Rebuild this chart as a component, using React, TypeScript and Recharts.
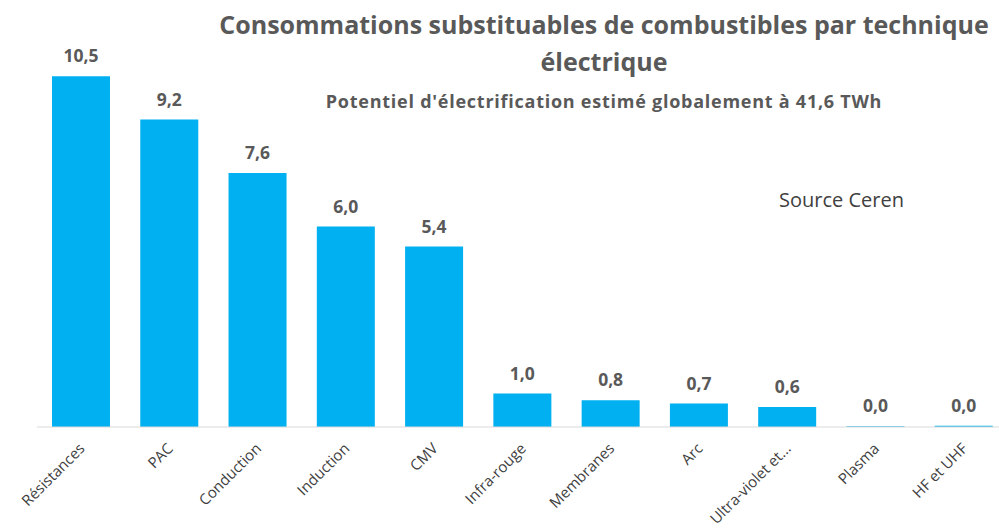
import React from "react";
import { BarChart, Bar, XAxis, YAxis, LabelList } from "recharts";

const categories = ["Résistances", "PAC", "Conduction", "Induction", "CMV", "Infra-rouge", "Membranes", "Arc", "Ultra-violet et...", "Plasma", "HF et UHF"];
const values = [10.5, 9.2, 7.6, 6.0, 5.4, 1.0, 0.8, 0.7, 0.6, 0.02, 0.04];

const data = categories.map((name, i) => ({ name, value: values[i] }));

const FONT = "'Open Sans', sans-serif";

const Tick = (props: any) => {
  const { x, y, payload } = props;
  return (
    <g transform={`translate(${x + 1},${y + 11})`}>
      <text textAnchor="end" transform="rotate(-45)" fontSize={15} fill="#404040" fontFamily={FONT} dy={5}>
        {payload.value}
      </text>
    </g>
  );
};

const fmt = (v: number) => v.toFixed(1).replace(".", ",");

export default function App() {
  return (
    <div style={{ position: "absolute", left: 0, top: 0, width: 999, height: 529, overflow: "hidden", background: "#fff", fontFamily: FONT }}>
      <BarChart width={1010} height={529} data={data} margin={{ top: 26, right: 2, bottom: 72, left: 37 }} barCategoryGap={15}>
        <XAxis dataKey="name" height={30} interval={0} tickLine={false} axisLine={{ stroke: "#d9d9d9" }} tick={<Tick />} />
        <YAxis hide domain={[0, 12]} />
        <Bar dataKey="value" fill="#00B0F0" isAnimationActive={false}>
          <LabelList dataKey="value" position="top" offset={14} formatter={(v: any) => fmt(Number(v))} style={{ fill: "#595959", fontSize: 17.5, fontWeight: 700, fontFamily: FONT }} />
        </Bar>
      </BarChart>
      <div style={{ position: "absolute", left: 204, width: 800, top: 6, textAlign: "center", fontSize: 25, fontWeight: 700, color: "#595959", lineHeight: "37px", whiteSpace: "nowrap" }}>
        Consommations substituables de combustibles par technique<br />électrique
      </div>
      <div style={{ position: "absolute", left: 304, width: 600, top: 89, textAlign: "center", fontSize: 18, letterSpacing: 0.75, fontWeight: 700, color: "#595959", whiteSpace: "nowrap" }}>
        Potentiel d'électrification estimé globalement à 41,6 TWh
      </div>
      <div style={{ position: "absolute", left: 779, top: 186, fontSize: 20, color: "#404040", whiteSpace: "nowrap" }}>
        Source Ceren
      </div>
    </div>
  );
}
